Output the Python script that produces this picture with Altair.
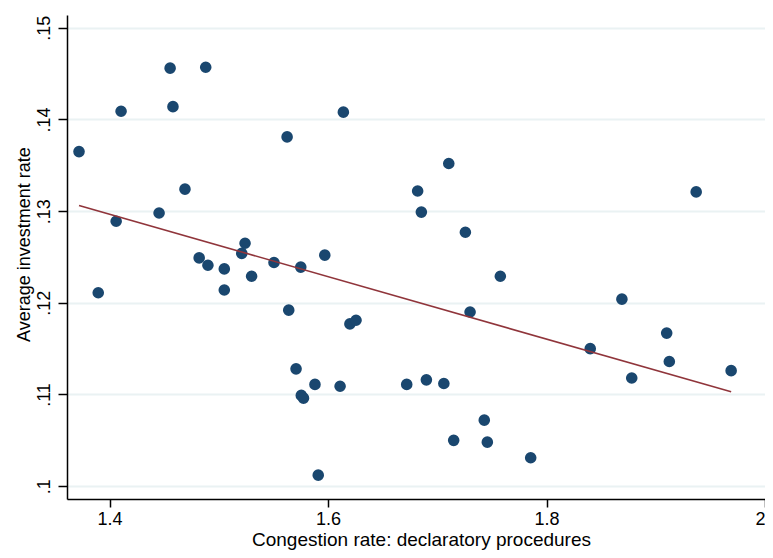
import altair as alt
import pandas as pd

congestion = [1.372, 1.3896, 1.406, 1.4105, 1.4453, 1.4554, 1.458, 1.469, 1.482, 1.488,
              1.490, 1.505, 1.505, 1.521, 1.524, 1.530, 1.5505, 1.5625, 1.564, 1.5707,
              1.575, 1.5755, 1.5775, 1.588, 1.591, 1.597, 1.611, 1.614, 1.620, 1.6256,
              1.672, 1.682, 1.6854, 1.690, 1.706, 1.7105, 1.715, 1.7257, 1.730, 1.743,
              1.7458, 1.7577, 1.7855, 1.840, 1.869, 1.878, 1.910, 1.9124, 1.937, 1.969]
investment = [0.1365, 0.1211, 0.1289, 0.1409, 0.1298, 0.1456, 0.1414, 0.1324, 0.1249, 0.1457,
              0.1241, 0.1237, 0.1214, 0.1254, 0.1265, 0.1229, 0.1244, 0.1381, 0.1192, 0.1128,
              0.1239, 0.1099, 0.1096, 0.1111, 0.1012, 0.1252, 0.1109, 0.1408, 0.1177, 0.1181,
              0.1111, 0.1322, 0.1299, 0.1116, 0.1112, 0.1352, 0.1050, 0.1277, 0.1190, 0.1072,
              0.1048, 0.1229, 0.1031, 0.1150, 0.1204, 0.1118, 0.1167, 0.1136, 0.1321, 0.1126]

x_ticks = [1.4, 1.6, 1.8, 2.0]
y_ticks = [0.10, 0.11, 0.12, 0.13, 0.14, 0.15]

x_title = "Congestion rate: declaratory procedures"
y_title = "Average investment rate"

df = pd.DataFrame({"congestion": congestion, "investment": investment})

FONT = "Liberation Sans"

x_scale = alt.Scale(domain=[1.361, 2.0], nice=False, zero=False)
y_scale = alt.Scale(domain=[0.0986, 0.1514], nice=False, zero=False)

x_axis = alt.Axis(
    values=x_ticks, format="~g", grid=False,
    domainColor="#000000", domainWidth=1.5,
    tickColor="#000000", tickWidth=1.5, tickSize=8,
    labelFont=FONT, labelFontSize=18, labelColor="#000000", labelPadding=3,
    titleFont=FONT, titleFontSize=19, titleFontWeight="normal", titleColor="#000000",
    titleBaseline="alphabetic", titleX=354, titleY=46, titleAlign="center",
)
y_axis = alt.Axis(
    values=y_ticks, grid=True, gridColor="#eaf2f3", gridWidth=2,
    labelExpr="replace(format(datum.value, '~g'), '0.', '.')",
    domainColor="#000000", domainWidth=1.5,
    tickColor="#000000", tickWidth=1.5, tickSize=9,
    labelFont=FONT, labelFontSize=18, labelColor="#000000",
    labelAngle=270, labelAlign="center", labelBaseline="alphabetic", labelPadding=9,
    titleFont=FONT, titleFontSize=18, titleFontWeight="normal", titleColor="#000000",
    titleAngle=270, titleBaseline="alphabetic", titleAlign="center",
    titleX=-38, titleY=229,
)

base = alt.Chart(df)

points = base.mark_circle(size=135, color="#1a476f", opacity=1).encode(
    x=alt.X("congestion:Q", scale=x_scale, axis=x_axis, title=x_title),
    y=alt.Y("investment:Q", scale=y_scale, axis=y_axis, title=y_title),
)

fit = base.transform_regression("congestion", "investment").mark_line(
    color="#90353b", strokeWidth=1.6
).encode(
    x=alt.X("congestion:Q", scale=x_scale, title=x_title),
    y=alt.Y("investment:Q", scale=y_scale, title=y_title),
)

chart = alt.layer(points, fit).properties(
    width=698, height=484,
    autosize=alt.AutoSizeParams(type="none"),
    padding={"left": 59, "top": 7, "right": 0, "bottom": 51},
    background="white",
).configure_view(stroke=None)

chart.save("out.html", embed_options={"renderer": "svg", "actions": False})
